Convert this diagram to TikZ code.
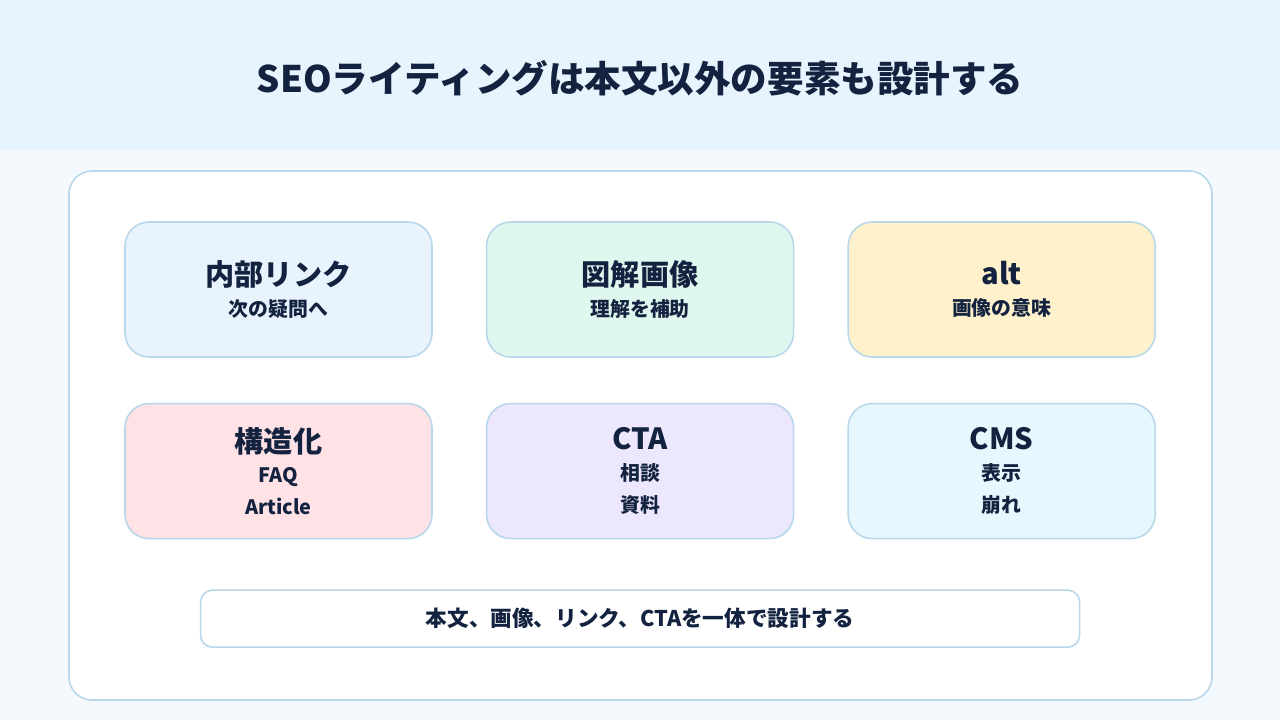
\documentclass[tikz,border=0pt]{standalone}
\usepackage{fontspec}
\setmainfont{Noto Sans CJK JP}
\usepackage{tikz}
\usetikzlibrary{positioning}
\definecolor{InkNavy}{HTML}{13233F}
\definecolor{HeaderBlue}{HTML}{E7F4FE}
\definecolor{PageBlue}{HTML}{F4F9FD}
\definecolor{EdgeBlue}{HTML}{B8D7EB}
\definecolor{LinkBlue}{HTML}{E8F3FE}
\definecolor{ImageGreen}{HTML}{E0F7EF}
\definecolor{AltYellow}{HTML}{FEF1CC}
\definecolor{SchemaPink}{HTML}{FEE2E6}
\definecolor{CtaPurple}{HTML}{EDE7FE}
\definecolor{CmsCyan}{HTML}{E6F8FD}
\newcommand{\cardhead}[1]{{\fontsize{16.6}{20}\selectfont #1}}

\begin{document}
\begin{tikzpicture}[
  node distance=0.9cm and 1.06cm,
  card/.style={rectangle, rounded corners=0.48cm, draw=EdgeBlue, line width=0.9pt,
               minimum width=6.14cm, minimum height=2.7cm,
               align=center, text=InkNavy,
               font=\fontsize{11.3}{18.2}\selectfont\bfseries},
]

% background and header band
\fill[PageBlue] (0,0) rectangle (25.6,-14.4);
\fill[HeaderBlue] (0,0) rectangle (25.6,-3.0);
\node[text=InkNavy, font=\fontsize{20.8}{24}\selectfont\bfseries] (title) at (12.8,-1.56)
  {SEOライティングは本文以外の要素も設計する};

% main panel
\draw[fill=white, draw=EdgeBlue, line width=0.9pt, rounded corners=0.46cm]
  (1.38,-3.42) rectangle (24.24,-14.0);

\node[card, fill=LinkBlue] (link) at (5.57,-5.79)
  {\cardhead{内部リンク}\\[-0.7pt]次の疑問へ};
\node[card, fill=ImageGreen, right=of link] (figure)
  {\cardhead{図解画像}\\[-0.7pt]理解を補助};
\node[card, fill=AltYellow, right=of figure] (alt)
  {\cardhead{alt}\\[-0.7pt]画像の意味};

\node[card, fill=SchemaPink, below=of link] (schema)
  {\cardhead{構造化}\\[-0.7pt]FAQ\\Article};
\node[card, fill=CtaPurple, below=of figure] (cta)
  {\cardhead{CTA}\\[-0.7pt]相談\\資料};
\node[card, fill=CmsCyan, below=of alt] (cms)
  {\cardhead{CMS}\\[-0.7pt]表示\\崩れ};

\node[card, fill=white, rounded corners=0.24cm, minimum width=17.58cm,
      minimum height=1.14cm, below=1.0cm of cta,
      font=\fontsize{12.3}{14}\selectfont\bfseries] (summary)
  {本文、画像、リンク、CTAを一体で設計する};

\end{tikzpicture}
\end{document}
